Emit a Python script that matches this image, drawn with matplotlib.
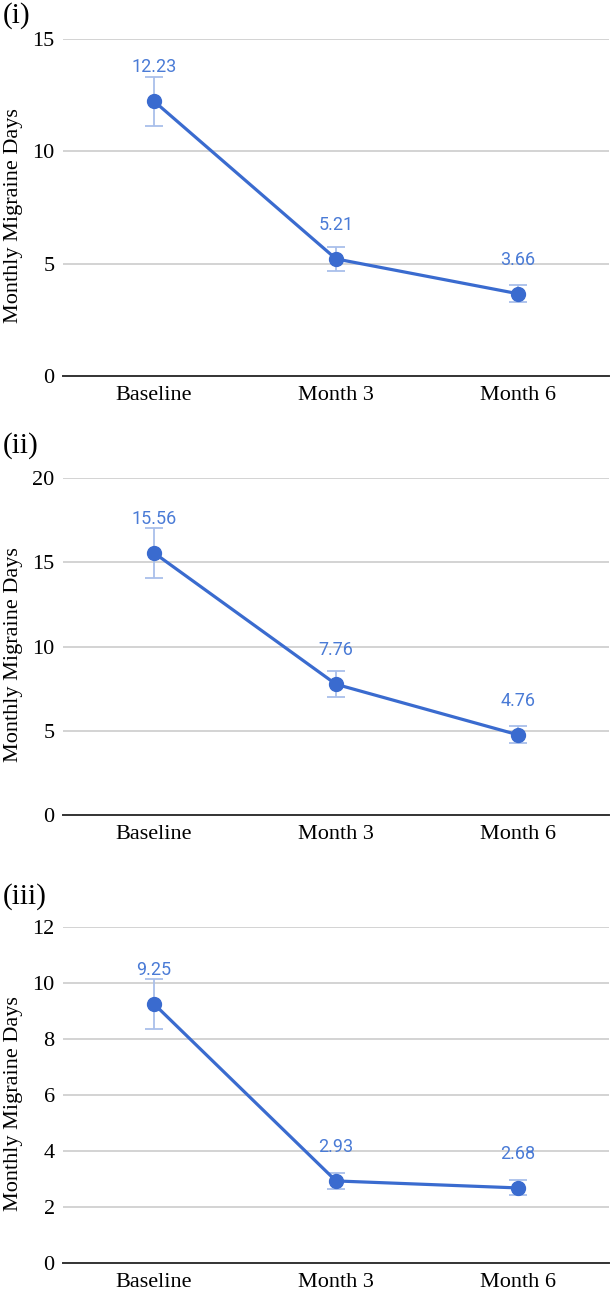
import matplotlib
matplotlib.use('Agg')
import matplotlib.pyplot as plt
import numpy as np

# Data
categories = ['Baseline', 'Month 3', 'Month 6']
panel_labels = ['(i)', '(ii)', '(iii)']

means_i = [12.23, 5.21, 3.66]
err_i = [1.1, 0.52, 0.37]

means_ii = [15.56, 7.76, 4.76]
err_ii = [1.5, 0.78, 0.5]

means_iii = [9.25, 2.93, 2.68]
err_iii = [0.9, 0.29, 0.27]

ymax = [15, 20, 12]
ystep = [5, 5, 2]

line_col = '#3a6bcf'
label_col = '#4a7bd6'
err_col = '#a9bfea'

plt.rcParams['font.family'] = ['Liberation Serif', 'DejaVu Serif']

fig = plt.figure(figsize=(6.13, 12.91), dpi=100, facecolor='w')

# axes boxes in figure fractions (left, bottom, width, height)
boxes = [
    (0.1028, 0.7088, 0.8907, 0.2610),
    (0.1028, 0.3687, 0.8907, 0.2610),
    (0.1028, 0.0217, 0.8907, 0.2603),
]
label_y = [1 - 16 / 1291, 1 - 446 / 1291, 1 - 897 / 1291]

series = [(means_i, err_i), (means_ii, err_ii), (means_iii, err_iii)]

for k, (means, errs) in enumerate(series):
    ax = fig.add_axes(boxes[k])
    x = np.arange(len(categories))

    ax.errorbar(x, means, yerr=errs, fmt='none', ecolor=err_col,
                elinewidth=1.3, capsize=6.5, capthick=1.3, zorder=3)
    ax.plot(x, means, '-', color=line_col, linewidth=2.3, zorder=4)
    ax.plot(x, means, 'o', color=line_col, markersize=10, zorder=5)

    for xi, m in zip(x, means):
        ax.annotate('%.2f' % m, (xi, m), xytext=(0, 24.5),
                    textcoords='offset points', ha='center', va='center',
                    color=label_col, fontsize=13, family=['Roboto', 'DejaVu Sans'],
                    zorder=6)

    ax.set_xlim(-0.5, 2.5)
    ax.set_ylim(0, ymax[k])
    ax.set_yticks(np.arange(0, ymax[k] + 0.1, ystep[k]))
    ax.set_xticks(x)
    ax.set_xticklabels(categories)
    ax.tick_params(axis='both', length=0, labelsize=16)
    ax.tick_params(axis='y', pad=6)
    ax.tick_params(axis='x', pad=7)

    ax.grid(axis='y', color='#cccccc', linewidth=1.2, zorder=0)
    ax.set_axisbelow(True)
    for s in ['top', 'right', 'left']:
        ax.spines[s].set_visible(False)
    ax.spines['bottom'].set_color('#333333')
    ax.spines['bottom'].set_linewidth(1.4)

    ax.set_ylabel('Monthly Migraine Days', fontsize=16)
    ax.yaxis.set_label_coords(-0.073, 0.475)

    fig.text(0.004, label_y[k], panel_labels[k], fontsize=21,
             ha='left', va='center')

plt.savefig('out.png', dpi=100, facecolor='w')
plt.close()
